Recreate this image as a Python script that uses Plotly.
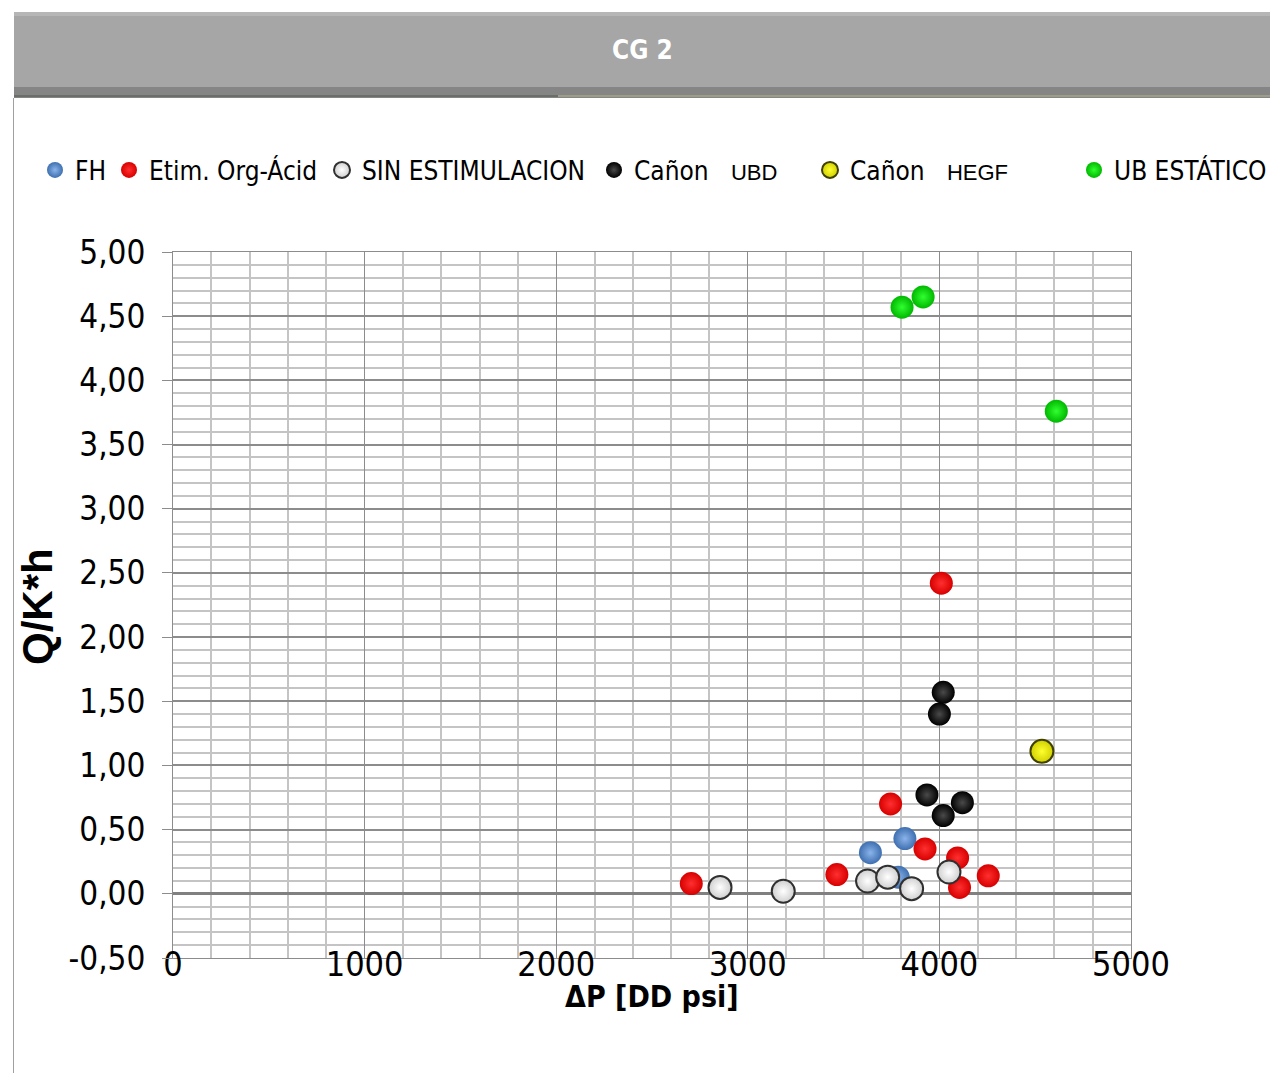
import plotly.graph_objects as go

# ---- data ----
fh_x = [3640, 3820, 3785]
fh_y = [0.32, 0.43, 0.13]
etim_x = [2705, 3465, 3745, 3925, 4095, 4105, 4255, 4010]
etim_y = [0.08, 0.15, 0.70, 0.35, 0.28, 0.05, 0.14, 2.42]
sin_x = [2855, 3185, 3625, 3730, 3855, 4050]
sin_y = [0.05, 0.02, 0.10, 0.13, 0.04, 0.17]
ubd_x = [4020, 4000, 3935, 4020, 4120]
ubd_y = [1.57, 1.40, 0.77, 0.61, 0.71]
hegf_x = [4535]
hegf_y = [1.11]
ub_x = [3805, 3915, 4610]
ub_y = [4.57, 4.65, 3.76]

y_tick_vals = [-0.5, 0, 0.5, 1.0, 1.5, 2.0, 2.5, 3.0, 3.5, 4.0, 4.5, 5.0]
y_tick_text = ["-0,50", "0,00", "0,50", "1,00", "1,50", "2,00", "2,50",
               "3,00", "3,50", "4,00", "4,50", "5,00"]

# page body has an 8px margin; reference pixel coordinates are mapped accordingly
OFF = 8
W, H = 1278 - OFF, 1073 - OFF
L, R, T, B = 173, 1131, 252, 958   # plot area in reference pixels


def px2x(px):
    return (px - L) / (R - L)


def py2y(py):
    return (B - py) / (B - T)


NARROW = "Liberation Sans Narrow, Arial Narrow, DejaVu Sans Condensed, sans-serif"
ARIAL = "Liberation Sans, Arial, sans-serif"
SMALL = "<span style='font-family:Liberation Sans, Arial;font-size:22px'>%s</span>"

series = [
    ("FH", fh_x, fh_y, "#3f6fb0", "#8ab4ea", "#3f6fb0", 0, 55),
    ("Etim. Org-Ácid", etim_x, etim_y, "#d80000", "#ff3030", "#d80000", 0, 129),
    ("SIN ESTIMULACION", sin_x, sin_y, "#cfcfcf", "#ffffff", "#303030", 2, 342),
    ("Cañon\u00a0\u00a0\u00a0" + SMALL % "UBD", ubd_x, ubd_y, "#000000", "#4a4a4a", "#000000", 0, 614),
    ("Cañon\u00a0\u00a0\u00a0" + SMALL % "HEGF", hegf_x, hegf_y, "#d0d000", "#ffff30", "#404000", 2, 830),
    ("UB ESTÁTICO", ub_x, ub_y, "#00b800", "#30ff30", "#00b800", 0, 1094),
]

fig = go.Figure()
legends = {}
for i, (name, xs, ys, col, grad, lcol, lw, symx) in enumerate(series):
    lname = "legend" if i == 0 else f"legend{i+1}"
    fig.add_trace(go.Scatter(
        x=xs, y=ys, mode="markers", name=name,
        legend=lname,
        marker=dict(size=23, color=col, symbol="circle",
                    gradient=dict(type="radial", color=grad),
                    line=dict(color=lcol, width=lw)),
    ))
    legends[lname] = dict(
        x=px2x(symx - 20), y=py2y(170), xanchor="left", yanchor="middle",
        orientation="h", bgcolor="rgba(0,0,0,0)", borderwidth=0,
        font=dict(family=NARROW, size=26, color="#000000"),
        itemsizing="trace",
    )

shapes = [
    # title banner
    dict(type="rect", xref="paper", yref="paper", x0=px2x(14), x1=px2x(1276),
         y0=py2y(98), y1=py2y(12), fillcolor="#858585", line=dict(width=0), layer="below"),
    dict(type="rect", xref="paper", yref="paper", x0=px2x(14), x1=px2x(1270),
         y0=py2y(87), y1=py2y(12), fillcolor="#a6a6a6", line=dict(width=0), layer="below"),
    dict(type="rect", xref="paper", yref="paper", x0=px2x(14), x1=px2x(1270),
         y0=py2y(16), y1=py2y(12), fillcolor="#b6b6b6", line=dict(width=0), layer="below"),
    dict(type="line", xref="paper", yref="paper", x0=px2x(14), x1=px2x(558),
         y0=py2y(96), y1=py2y(96), line=dict(color="#4a5a4a", width=1)),
    dict(type="line", xref="paper", yref="paper", x0=px2x(558), x1=px2x(1272),
         y0=py2y(96), y1=py2y(96), line=dict(color="#b8b48a", width=1)),
    # frame lines
    dict(type="line", xref="paper", yref="paper", x0=px2x(13.5), x1=px2x(13.5),
         y0=py2y(1073), y1=py2y(98), line=dict(color="#a0a0a0", width=1)),
    dict(type="line", xref="paper", yref="paper", x0=px2x(0), x1=px2x(1278),
         y0=py2y(5), y1=py2y(5), line=dict(color="#d8d8d8", width=1)),
]

fig.update_layout(
    width=W, height=H,
    margin=dict(l=L - OFF, r=W - (R - OFF), t=T - OFF, b=H - (B - OFF), autoexpand=False),
    paper_bgcolor="white", plot_bgcolor="white",
    separators=",.",
    showlegend=True,
    shapes=shapes,
    annotations=[
        dict(text="<b>CG 2</b>", xref="paper", yref="paper", x=px2x(642), y=py2y(50),
             showarrow=False, font=dict(family=NARROW, size=26, color="white"),
             xanchor="center", yanchor="middle"),
        dict(text="<b>Q/K*h</b>", xref="paper", yref="paper", x=px2x(37), y=py2y(607),
             showarrow=False, textangle=-90, font=dict(family=ARIAL, size=42, color="#000000"),
             xanchor="center", yanchor="middle"),
        dict(text="<b>ΔP [DD psi]</b>", xref="paper", yref="paper", x=px2x(652), y=py2y(996),
             showarrow=False, font=dict(family=NARROW, size=30, color="#000000"),
             xanchor="center", yanchor="middle"),
    ],
    **legends,
)

fig.update_xaxes(
    range=[0, 5000], dtick=1000, tick0=0, tickformat="d",
    showgrid=True, gridcolor="#8c8c8c", gridwidth=1,
    minor=dict(dtick=200, showgrid=True, gridcolor="#c4c4c4", gridwidth=2),
    showline=True, linecolor="#8c8c8c", linewidth=1, mirror=True,
    zeroline=False, ticks="",
    tickfont=dict(family=NARROW, size=34, color="#000000"),
    ticklabelstandoff=-24,
)
fig.update_yaxes(
    range=[-0.5, 5.0], tickmode="array", tickvals=y_tick_vals, ticktext=y_tick_text,
    showgrid=True, gridcolor="#8c8c8c", gridwidth=2,
    minor=dict(tickmode="linear", tick0=0, dtick=0.1, showgrid=True, gridcolor="#c4c4c4", gridwidth=2),
    showline=True, linecolor="#8c8c8c", linewidth=1, mirror=True,
    zeroline=True, zerolinecolor="#808080", zerolinewidth=3,
    ticks="outside", ticklen=10, tickcolor="#8c8c8c",
    tickfont=dict(family=NARROW, size=33, color="#000000"),
    ticklabelstandoff=10,
)

fig.write_html("out.html")
